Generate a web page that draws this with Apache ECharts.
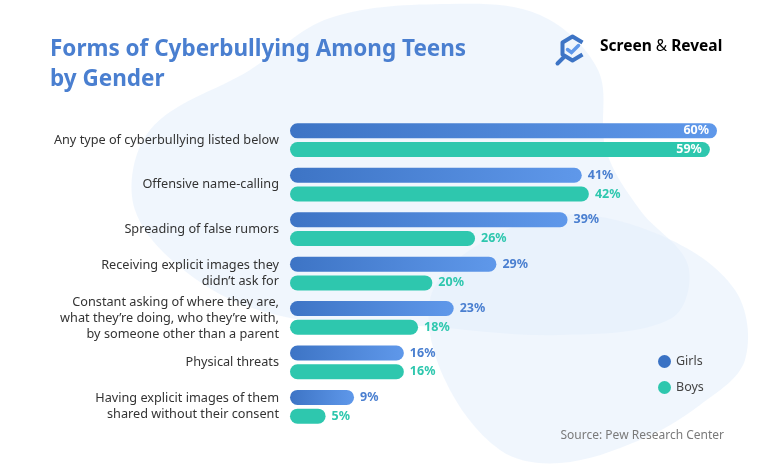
<!DOCTYPE html>
<html><head><meta charset="utf-8">
<script src="https://cdn.jsdelivr.net/npm/echarts@6/dist/echarts.min.js"></script>
<style>html,body{margin:0;padding:0;background:#fff}#c{width:768px;height:465px}</style>
</head><body><div id="c"></div>
<script>
const categories = [
  "Any type of cyberbullying listed below",
  "Offensive name-calling",
  "Spreading of false rumors",
  "Receiving explicit images they\ndidn’t ask for",
  "Constant asking of where they are,\nwhat they’re doing, who they’re with,\nby someone other than a parent",
  "Physical threats",
  "Having explicit images of them\nshared without their consent"
];
const girls = [60, 41, 39, 29, 23, 16, 9];
const boys = [59, 42, 26, 20, 18, 16, 5];
const seriesNames = ["Girls", "Boys"];

const FONT = "Noto Sans";
const GIRL_C = '#3a72c4', BOY_C = '#2ec7ae';
const chart = echarts.init(document.getElementById('c'));

function mk(vals, color) {
  return vals.map((v, i) => i === 0 ? {
    value: v,
    label: { position: 'insideRight', color: '#ffffff', offset: [-2, 0] }
  } : { value: v, label: { color: color } });
}

chart.setOption({
  backgroundColor: '#ffffff',
  animation: false,
  title: {
    text: 'Forms of Cyberbullying Among Teens\nby Gender',
    left: 45, top: 30,
    textStyle: { fontFamily: FONT, fontWeight: 'bold', fontSize: 22.5, color: '#4a7fd0', lineHeight: 30 }
  },
  graphic: [
    { type: 'polygon', z: -10, silent: true,
      shape: { smooth: 0.35, points: [[250,70],[330,18],[450,4],[540,15],[598,70],[606,150],[640,210],[688,265],[672,318],[560,335],[420,326],[290,318],[200,282],[135,210],[150,130]] },
      style: { fill: '#e4eefc', opacity: 0.55 } },
    { type: 'polygon', z: -10, silent: true,
      shape: { smooth: 0.35, points: [[470,250],[560,215],[660,235],[735,290],[745,360],[700,405],[640,440],[560,463],[500,450],[445,380],[430,300]] },
      style: { fill: '#e4eefc', opacity: 0.55 } },
    { type: 'group', left: 555, top: 34, children: [
      { type: 'polyline', shape: { points: [[26,8],[16,2],[6,8],[6,20],[16,26],[26,20]] },
        style: { stroke: '#3d74c5', lineWidth: 4, fill: 'none', lineJoin: 'round' } },
      { type: 'polyline', shape: { points: [[11,15],[15,18],[22,11]] },
        style: { stroke: '#5f98ea', lineWidth: 3.5, fill: 'none', lineCap: 'round' } },
      { type: 'line', shape: { x1: 7, y1: 23, x2: 1, y2: 29 },
        style: { stroke: '#3d74c5', lineWidth: 4, lineCap: 'round' } }
    ]},
    { type: 'text', left: 600, top: 39,
      style: { text: '{a|Screen }{b|&}{a| Reveal}',
        rich: { a: { fontFamily: FONT, fontWeight: 'bold', fontSize: 15.5, color: '#222' },
                b: { fontFamily: FONT, fontWeight: 'normal', fontSize: 15.5, color: '#5f98ea' } } } },
    { type: 'text', right: 44, top: 430,
      style: { text: 'Source: Pew Research Center', fontFamily: FONT, fontSize: 12, fill: '#7a7a7a' } }
  ],
  legend: {
    data: [{ name: seriesNames[0], itemStyle: { color: GIRL_C } }, { name: seriesNames[1], itemStyle: { color: BOY_C } }],
    orient: 'vertical', left: 653, top: 350, itemGap: 13,
    icon: 'circle', itemWidth: 13, itemHeight: 13,
    textStyle: { fontFamily: FONT, fontSize: 12.5, color: '#444' }
  },
  grid: { left: 290, right: 51, top: 118, bottom: 36, containLabel: false },
  xAxis: { type: 'value', min: 0, max: 60, show: false },
  yAxis: {
    type: 'category', data: categories, inverse: true,
    axisLine: { show: false }, axisTick: { show: false },
    axisLabel: { margin: 11, fontFamily: FONT, fontSize: 12.7, color: '#333', lineHeight: 16, align: 'right' }
  },
  series: [
    { name: seriesNames[0], type: 'bar', barWidth: 15, barGap: '25%',
      data: mk(girls, '#4a7fd0'),
      itemStyle: { borderRadius: 8, color: new echarts.graphic.LinearGradient(0, 0, 1, 0, [
        { offset: 0, color: '#3d74c5' }, { offset: 1, color: '#5f98ea' }]) },
      label: { show: true, position: 'right', distance: 6, formatter: '{c}%', fontFamily: FONT, fontWeight: 'bold', fontSize: 12.5 }
    },
    { name: seriesNames[1], type: 'bar', barWidth: 15, barGap: '25%',
      data: mk(boys, BOY_C),
      itemStyle: { borderRadius: 8, color: BOY_C },
      label: { show: true, position: 'right', distance: 6, formatter: '{c}%', fontFamily: FONT, fontWeight: 'bold', fontSize: 12.5 }
    }
  ]
});
</script></body></html>
